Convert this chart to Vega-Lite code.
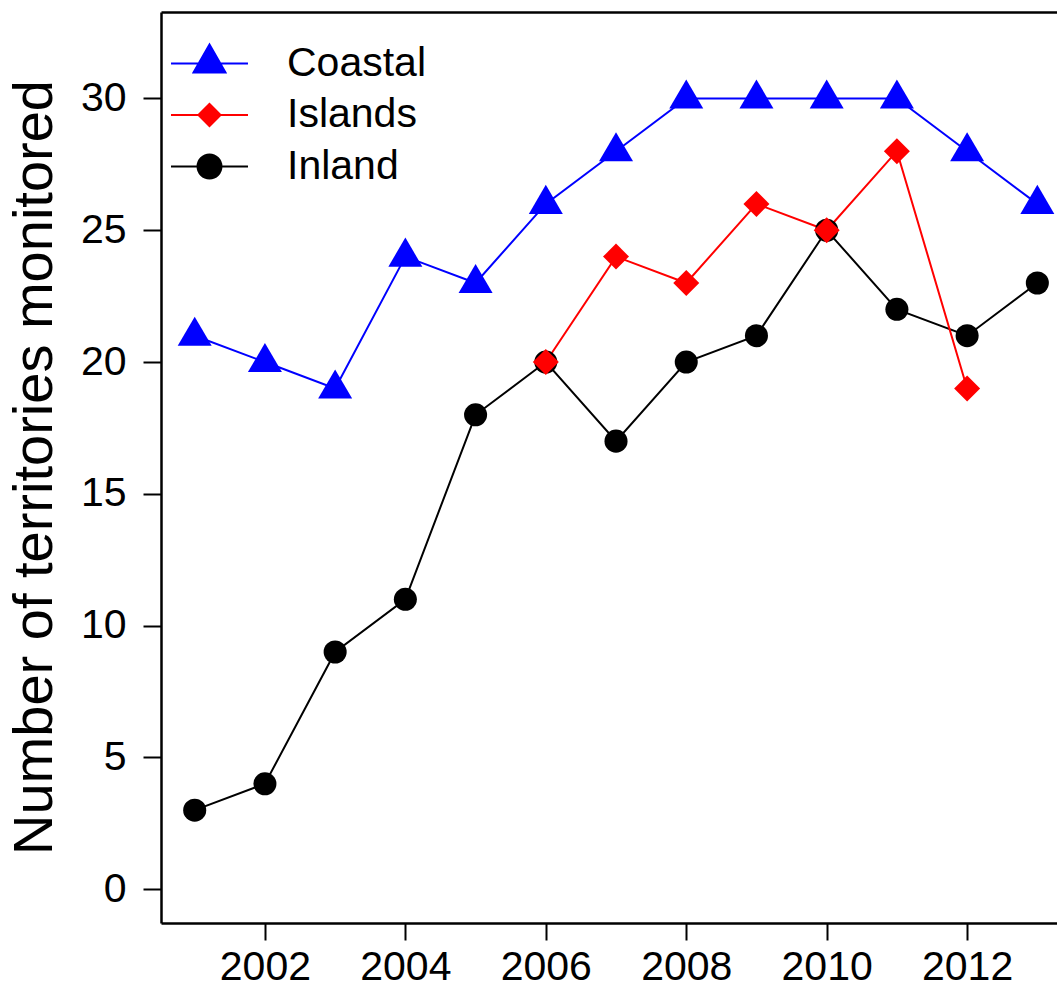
{
  "$schema": "https://vega.github.io/schema/vega-lite/v6.json",
  "autosize": "none",
  "padding": {"left": 161, "top": 12, "right": 0, "bottom": 63},
  "width": 896,
  "height": 911,
  "background": "white",
  "config": {
    "view": {"stroke": null},
    "font": "Liberation Sans",
    "axis": {
      "grid": false,
      "domainColor": "black",
      "domainWidth": 2.5,
      "tickColor": "black",
      "tickWidth": 2,
      "labelFont": "Liberation Sans",
      "labelFontSize": 41,
      "labelColor": "black",
      "titleFont": "Liberation Sans",
      "titleColor": "black",
      "titleFontWeight": "normal"
    },
    "legend": {
      "orient": "none",
      "legendX": 28,
      "legendY": 31,
      "padding": 0,
      "labelFont": "Liberation Sans",
      "labelFontSize": 41,
      "labelColor": "black",
      "labelOffset": 57,
      "rowPadding": 9.5,
      "symbolSize": 676,
      "symbolStrokeWidth": 2
    }
  },
  "data": {
    "values": [
      {"year": 2001, "series": "Coastal", "n": 21},
      {"year": 2002, "series": "Coastal", "n": 20},
      {"year": 2003, "series": "Coastal", "n": 19},
      {"year": 2004, "series": "Coastal", "n": 24},
      {"year": 2005, "series": "Coastal", "n": 23},
      {"year": 2006, "series": "Coastal", "n": 26},
      {"year": 2007, "series": "Coastal", "n": 28},
      {"year": 2008, "series": "Coastal", "n": 30},
      {"year": 2009, "series": "Coastal", "n": 30},
      {"year": 2010, "series": "Coastal", "n": 30},
      {"year": 2011, "series": "Coastal", "n": 30},
      {"year": 2012, "series": "Coastal", "n": 28},
      {"year": 2013, "series": "Coastal", "n": 26},
      {"year": 2001, "series": "Inland", "n": 3},
      {"year": 2002, "series": "Inland", "n": 4},
      {"year": 2003, "series": "Inland", "n": 9},
      {"year": 2004, "series": "Inland", "n": 11},
      {"year": 2005, "series": "Inland", "n": 18},
      {"year": 2006, "series": "Inland", "n": 20},
      {"year": 2007, "series": "Inland", "n": 17},
      {"year": 2008, "series": "Inland", "n": 20},
      {"year": 2009, "series": "Inland", "n": 21},
      {"year": 2010, "series": "Inland", "n": 25},
      {"year": 2011, "series": "Inland", "n": 22},
      {"year": 2012, "series": "Inland", "n": 21},
      {"year": 2013, "series": "Inland", "n": 23},
      {"year": 2006, "series": "Islands", "n": 20},
      {"year": 2007, "series": "Islands", "n": 24},
      {"year": 2008, "series": "Islands", "n": 23},
      {"year": 2009, "series": "Islands", "n": 26},
      {"year": 2010, "series": "Islands", "n": 25},
      {"year": 2011, "series": "Islands", "n": 28},
      {"year": 2012, "series": "Islands", "n": 19}
    ]
  },
  "encoding": {
    "y": {
      "field": "n",
      "type": "quantitative",
      "scale": {"domain": [-1.28, 33.28], "nice": false, "zero": false},
      "axis": {
        "values": [0, 5, 10, 15, 20, 25, 30],
        "domain": true,
        "tickSize": 18,
        "labelPadding": 17,
        "title": "Number of territories monitored",
        "titleFontSize": 56,
        "titleAngle": -90,
        "titleAlign": "center",
        "titleBaseline": "alphabetic",
        "titleX": -110,
        "titleY": 455
      }
    }
  },
  "layer": [
    {
      "mark": {"type": "line", "strokeWidth": 2},
      "encoding": {
        "x": {
          "field": "year",
          "type": "quantitative",
          "scale": {"domain": [2000.52, 2013.28], "nice": false, "zero": false},
          "axis": {
            "orient": "bottom",
            "values": [2002, 2004, 2006, 2008, 2010, 2012],
            "format": "d",
            "tickSize": 17,
            "labelPadding": 7,
            "title": null
          }
        },
        "color": {
          "field": "series",
          "type": "nominal",
          "scale": {"domain": ["Coastal", "Islands", "Inland"], "range": ["#0000ff", "#ff0000", "#000000"]},
          "legend": {
            "title": null,
            "encode": {
              "symbols": {
                "update": {
                  "shape": {"signal": "datum.value === 'Coastal' ? 'M-2.96,0H2.96M0,-1.46L1.23,0.69L-1.23,0.69Z' : datum.value === 'Islands' ? 'M-2.96,0H2.96M-0.85,0L0,-0.85L0.85,0L0,0.85Z' : 'M-2.96,0H2.96M-0.92,0A0.92,0.92,0,1,1,0.92,0A0.92,0.92,0,1,1,-0.92,0Z'"},
                  "fill": {"signal": "scale('color', datum.value)"},
                  "stroke": {"signal": "scale('color', datum.value)"},
                  "strokeWidth": {"value": 2},
                  "opacity": {"value": 1},
                  "fillOpacity": {"value": 1}
                }
              }
            }
          }
        },
        "detail": {"field": "series"}
      }
    },
    {
      "transform": [{"filter": "datum.series === 'Coastal'"}],
      "mark": {"type": "point", "filled": true, "opacity": 1, "size": 1156, "shape": "M0,-1.12L1,0.59L-1,0.59Z", "strokeWidth": 0},
      "encoding": {
        "x": {
          "field": "year",
          "type": "quantitative",
          "axis": {"orient": "top", "labels": false, "ticks": false, "domain": true, "title": null}
        },
        "color": {"field": "series", "type": "nominal", "legend": null}
      }
    },
    {
      "transform": [{"filter": "datum.series === 'Inland'"}],
      "mark": {"type": "point", "filled": true, "opacity": 1, "size": 531, "shape": "circle", "strokeWidth": 0},
      "encoding": {
        "x": {"field": "year", "type": "quantitative", "axis": null},
        "color": {"field": "series", "type": "nominal", "legend": null}
      }
    },
    {
      "transform": [{"filter": "datum.series === 'Islands'"}],
      "mark": {"type": "point", "filled": true, "opacity": 1, "size": 676, "shape": "diamond", "strokeWidth": 0},
      "encoding": {
        "x": {"field": "year", "type": "quantitative", "axis": null},
        "color": {"field": "series", "type": "nominal", "legend": null}
      }
    }
  ],
  "resolve": {"axis": {"x": "independent"}}
}
